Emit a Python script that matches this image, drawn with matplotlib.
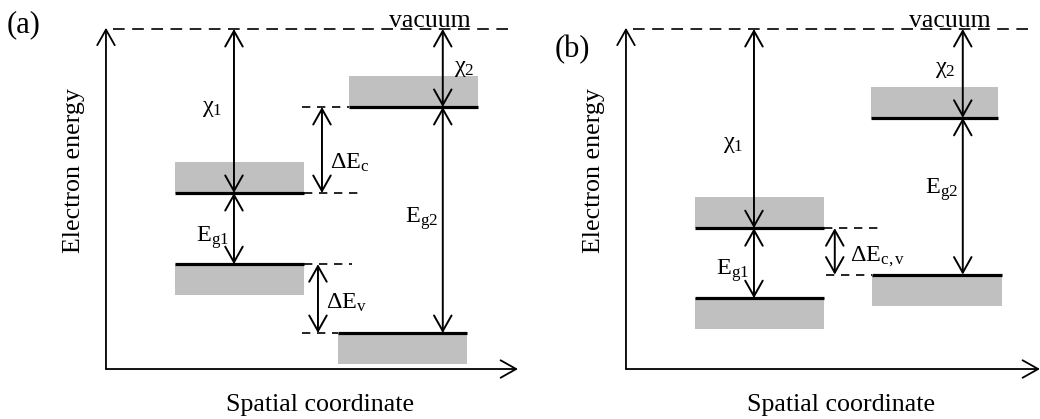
import matplotlib.pyplot as plt
from matplotlib.patches import Rectangle

plt.rcParams['font.family'] = 'Liberation Serif'
plt.rcParams['mathtext.fontset'] = 'custom'
plt.rcParams['mathtext.rm'] = 'Liberation Serif'
plt.rcParams['mathtext.it'] = 'Liberation Serif:italic'

# electron affinity and band gap of material 1 / material 2 (arb. units, vacuum level = 0)
chi_a = [4.1, 1.95]
eg_a = [1.78, 5.65]
chi_b = [4.98, 2.22]
eg_b = [1.75, 3.92]

# lateral extent of the conduction / valence band blocks
cb_x_a = [(1.72, 4.95), (6.08, 9.3)]
vb_x_a = [(1.72, 4.95), (5.8, 9.02)]
cb_x_b = [(1.72, 4.95), (6.12, 9.3)]
vb_x_b = [(1.72, 4.95), (6.15, 9.4)]
band_w = 0.78
arrow_x = [3.2, 8.42]

GRAY = '#c0c0c0'
HEAD = 'head_length=0.8,head_width=0.45'


def darrow(ax, x, y0, y1):
    ax.annotate('', xy=(x, y1), xytext=(x, y0),
                arrowprops=dict(arrowstyle='<->,' + HEAD, lw=1.4, color='black',
                                shrinkA=0, shrinkB=0, mutation_scale=14),
                annotation_clip=False)


def dashed(ax, x0, x1, y):
    ax.plot([x0, x1], [y, y], color='black', lw=1.2, dashes=(5, 4))


def label(ax, x, y, s):
    ax.text(x, y, s, fontsize=17.5, ha='left', va='baseline')


def draw_panel(ax, chi, eg, cb_x, vb_x, x_end, ylab_y, xlab_x):
    ec = [-c for c in chi]
    ev = [ec[i] - eg[i] for i in range(2)]

    ax.set_xlim(0, 10.4)
    ax.set_ylim(-8.5, 0)
    for s in ax.spines.values():
        s.set_visible(False)
    ax.set_xticks([])
    ax.set_yticks([])

    # axes with arrow heads
    ax.annotate('', xy=(0, 0.03), xytext=(0, -8.5),
                arrowprops=dict(arrowstyle='->,' + HEAD, lw=1.3, color='black',
                                shrinkA=0, shrinkB=0, mutation_scale=14),
                annotation_clip=False)
    ax.annotate('', xy=(x_end, -8.5), xytext=(0, -8.5),
                arrowprops=dict(arrowstyle='->,' + HEAD, lw=1.3, color='black',
                                shrinkA=0, shrinkB=0, mutation_scale=14),
                annotation_clip=False)

    # vacuum level
    ax.plot([0.18, 10.1], [0, 0], color='black', lw=1.2, dashes=(7, 4.5), clip_on=False)
    ax.text(8.1, 0.06, 'vacuum', fontsize=18.5, ha='center', va='baseline')

    # conduction and valence bands
    for i in range(2):
        x0, x1 = cb_x[i]
        ax.add_patch(Rectangle((x0, ec[i]), x1 - x0, band_w, color=GRAY, lw=0))
        ax.plot([x0, x1], [ec[i], ec[i]], color='black', lw=2.3, solid_capstyle='butt')
        x0, x1 = vb_x[i]
        ax.add_patch(Rectangle((x0, ev[i] - band_w), x1 - x0, band_w, color=GRAY, lw=0))
        ax.plot([x0, x1], [ev[i], ev[i]], color='black', lw=2.3, solid_capstyle='butt')

        darrow(ax, arrow_x[i], 0, ec[i])
        darrow(ax, arrow_x[i], ec[i], ev[i])

    ax.set_ylabel('Electron energy', fontsize=18.7, y=ylab_y, labelpad=15)
    ax.set_xlabel('Spatial coordinate', fontsize=18.7, x=xlab_x, labelpad=18)
    return ec, ev


fig = plt.figure(figsize=(10.4, 4.19), dpi=100)
ax1 = fig.add_axes([0.1019, 0.1193, 0.4, 0.8115])
ax2 = fig.add_axes([0.6019, 0.1193, 0.4, 0.8115])

# (a) straddling alignment
ec, ev = draw_panel(ax1, chi_a, eg_a, cb_x_a, vb_x_a, 10.3, 0.585, 0.514)
dashed(ax1, 4.9, 6.08, ec[1])
dashed(ax1, 4.95, 6.4, ec[0])
dashed(ax1, 4.95, 6.15, ev[0])
dashed(ax1, 4.9, 5.8, ev[1])
darrow(ax1, 5.4, ec[1], ec[0])
darrow(ax1, 5.3, ev[0], ev[1])
label(ax1, 2.4, -2.08, r'$\mathrm{χ_1}$')
label(ax1, 2.25, -5.32, r'$\mathrm{E_{g1}}$')
label(ax1, 8.7, -1.08, r'$\mathrm{χ_2}$')
label(ax1, 7.48, -4.85, r'$\mathrm{E_{g2}}$')
label(ax1, 5.6, -3.48, r'$\mathrm{\Delta E_c}$')
label(ax1, 5.5, -7.0, r'$\mathrm{\Delta E_v}$')

# (b) broken gap alignment
ec, ev = draw_panel(ax2, chi_b, eg_b, cb_x_b, vb_x_b, 10.35, 0.585, 0.517)
dashed(ax2, 4.95, 6.4, ec[0])
dashed(ax2, 5.0, 6.15, ev[1])
darrow(ax2, 5.22, ec[0], ev[1])
label(ax2, 2.43, -2.98, r'$\mathrm{χ_1}$')
label(ax2, 2.25, -6.15, r'$\mathrm{E_{g1}}$')
label(ax2, 7.73, -1.1, r'$\mathrm{χ_2}$')
label(ax2, 7.48, -4.12, r'$\mathrm{E_{g2}}$')
label(ax2, 5.6, -5.8, r'$\mathrm{\Delta E_{c,v}}$')

fig.text(7 / 1040, 1 - 32 / 419, '(a)', fontsize=22, va='baseline')
fig.text(555 / 1040, 1 - 57 / 419, '(b)', fontsize=22, va='baseline')

plt.savefig('out.png', dpi=100)
